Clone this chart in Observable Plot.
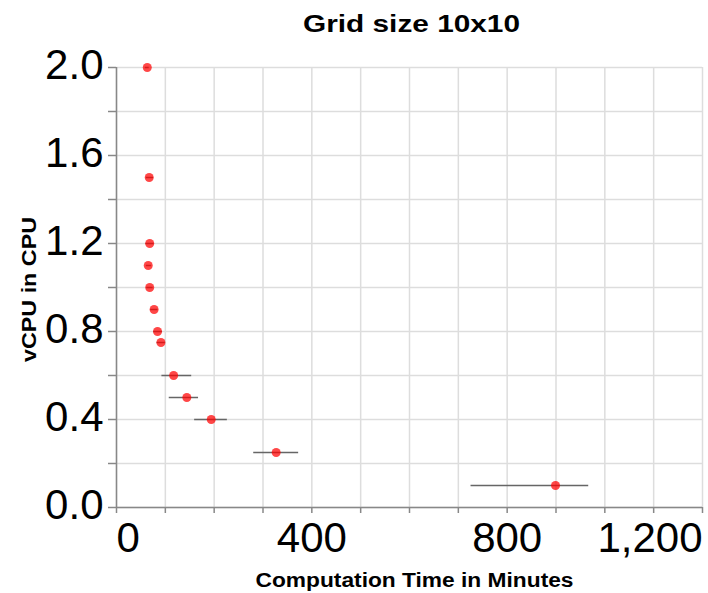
<!DOCTYPE html>
<html>
<head>
<meta charset="utf-8">
<script src="https://cdn.jsdelivr.net/npm/d3@7"></script>
<script src="https://cdn.jsdelivr.net/npm/@observablehq/plot@0.6"></script>
<style>
  html, body { margin: 0; padding: 0; background: #fff; }
</style>
</head>
<body>
<div id="chart"></div>
<script>
const vcpu     = [2.0, 1.5, 1.2, 1.1, 1.0, 0.9, 0.8, 0.75, 0.6, 0.5, 0.4, 0.25, 0.1];
const timeMean = [63, 67, 68, 65, 68, 77, 84, 91, 117, 144, 194, 327, 899];
const timeLow  = [59, 61, 60, 61, 62, 70, 76, 83, 93, 108, 160, 281, 726];
const timeHigh = [67, 76, 77, 72, 75, 85, 94, 100, 154, 168, 227, 373, 967];

const xTicks = d3.range(0, 1201, 100);
const xLabelTicks = [0, 400, 800, 1200];
const yTicks = d3.range(0, 2.0001, 0.2).map(d => +d.toFixed(1));
const yLabelTicks = [0, 0.4, 0.8, 1.2, 1.6, 2.0];

const title = "Grid size 10x10";
const xTitle = "Computation Time in Minutes";
const yTitle = "vCPU in CPU";

const data = vcpu.map((v, i) => ({vcpu: v, mean: timeMean[i], lo: timeLow[i], hi: timeHigh[i]}));
const fmtX = d3.format(",");
const fmtY = d3.format(".1f");
const axisColor = "#888";
const gridColor = "#ddd";

const plot = Plot.plot({
  width: 708,
  height: 593,
  marginLeft: 116,
  marginRight: 6,
  marginTop: 67,
  marginBottom: 86,
  style: {fontFamily: "'Liberation Sans', Arial, sans-serif", background: "#fff"},
  x: {domain: [0, 1200], axis: null, label: null},
  y: {domain: [0, 2], axis: null, label: null},
  marks: [
    Plot.gridX({ticks: xTicks, stroke: gridColor, strokeOpacity: 1, strokeWidth: 1.5}),
    Plot.gridY({ticks: yTicks, stroke: gridColor, strokeOpacity: 1, strokeWidth: 1.5}),
    Plot.axisX({ticks: xTicks, tickFormat: () => "", label: null, tickSize: 6, stroke: axisColor, strokeWidth: 1.5, strokeOpacity: 1}),
    Plot.axisY({ticks: yTicks, tickFormat: () => "", label: null, tickSize: 8, stroke: axisColor, strokeWidth: 1.5, strokeOpacity: 1}),
    Plot.ruleY([0], {stroke: axisColor, strokeWidth: 1.5}),
    Plot.ruleX([0], {stroke: axisColor, strokeWidth: 1.5}),
    // x tick labels (first flush left, last flush right)
    Plot.text(xLabelTicks.slice(0, 1), {x: d => d, text: d => fmtX(d), frameAnchor: "bottom", lineAnchor: "top", textAnchor: "start", dy: 15, fontSize: 42, fill: "#000"}),
    Plot.text(xLabelTicks.slice(1, -1), {x: d => d, text: d => fmtX(d), frameAnchor: "bottom", lineAnchor: "top", textAnchor: "middle", dy: 15, fontSize: 42, fill: "#000"}),
    Plot.text(xLabelTicks.slice(-1), {x: d => d, text: d => fmtX(d), frameAnchor: "bottom", lineAnchor: "top", textAnchor: "end", dy: 15, fontSize: 42, fill: "#000"}),
    // y tick labels
    Plot.text(yLabelTicks, {y: d => d, text: d => fmtY(d), frameAnchor: "left", textAnchor: "end", lineAnchor: "middle", dx: -13, dy: -2, fontSize: 42, fill: "#000"}),
    // error bars
    Plot.ruleY(data, {y: "vcpu", x1: "lo", x2: "hi", stroke: "#666", strokeWidth: 1.5}),
    // points
    Plot.dot(data, {x: "mean", y: "vcpu", r: 4.5, fill: "#ff0000", fillOpacity: 0.72, stroke: "none"}),
    // titles
    Plot.text([title], {frameAnchor: "top", textAnchor: "middle", lineAnchor: "middle", dy: -43, dx: 2, fontSize: 24, fontWeight: "bold", fill: "#000"}),
    Plot.text([xTitle], {frameAnchor: "bottom", textAnchor: "middle", lineAnchor: "middle", dy: 73, dx: 5, fontSize: 20, fontWeight: "bold", fill: "#000"}),
    Plot.text([yTitle], {frameAnchor: "left", textAnchor: "middle", lineAnchor: "middle", rotate: -90, dx: -87, dy: 2, fontSize: 21, fontWeight: "bold", fill: "#000"})
  ]
});

document.getElementById("chart").appendChild(plot);
const stretch = (str, len) => d3.select(plot).selectAll("text")
  .filter(function() { return this.textContent === str; })
  .attr("textLength", len).attr("lengthAdjust", "spacingAndGlyphs");
stretch(title, 217);
stretch(xTitle, 318);
stretch(yTitle, 145);
</script>
</body>
</html>
